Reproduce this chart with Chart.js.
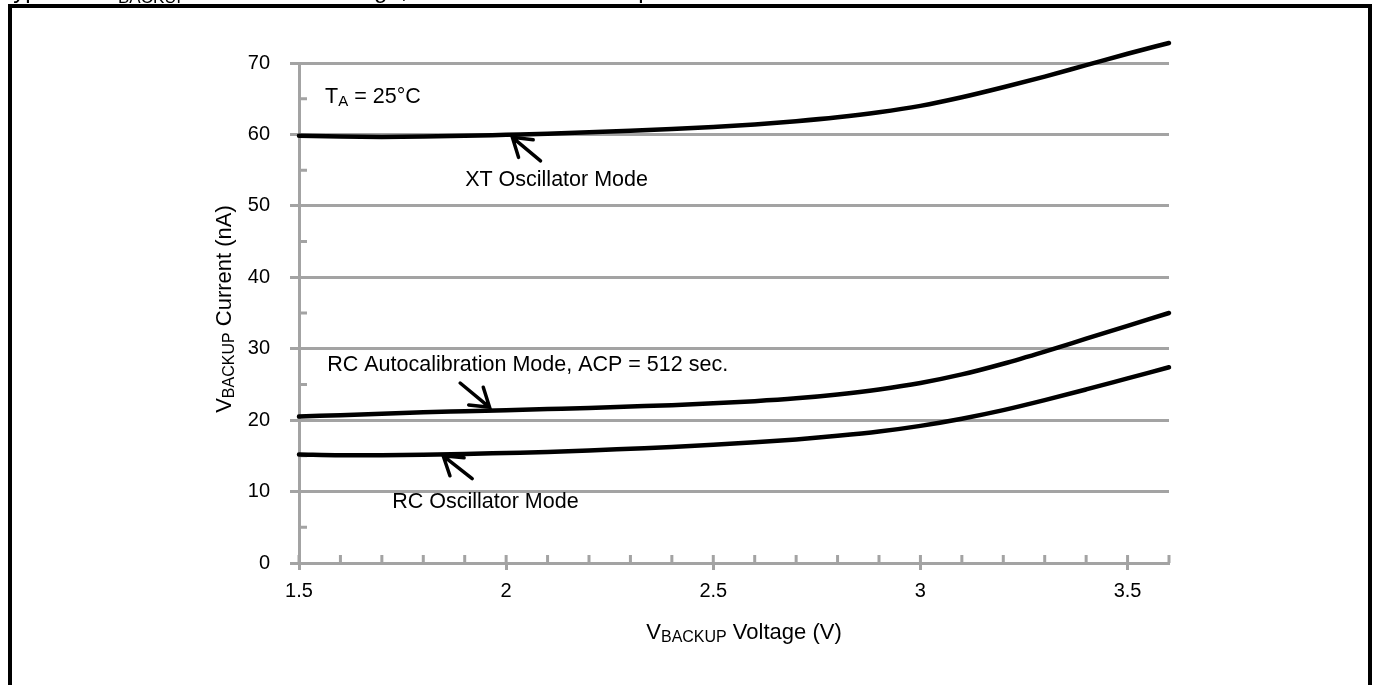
<!DOCTYPE html>
<html>
<head>
<meta charset="utf-8">
<title>VBACKUP Current vs. Voltage</title>
<script src="https://cdn.jsdelivr.net/npm/chart.js@4.4.1/dist/chart.umd.min.js"></script>
<style>
  html, body { margin: 0; padding: 0; background: #fff; }
  #myChart { display: block; }
</style>
</head>
<body>
<canvas id="myChart" width="1378" height="685"></canvas>
<script>
// values (V, nA)
const voltage = [1.5, 1.6, 1.7, 1.8, 1.9, 2.0, 2.1, 2.2, 2.3, 2.4, 2.5, 2.6, 2.7, 2.8, 2.9, 3.0, 3.1, 3.2, 3.3, 3.4, 3.5, 3.6];
const xtOscillator = [59.8, 59.7, 59.65, 59.7, 59.8, 59.95, 60.1, 60.3, 60.5, 60.75, 61.05, 61.4, 61.85, 62.4, 63.1, 64.0, 65.2, 66.6, 68.1, 69.7, 71.3, 72.8];
const rcAutocal = [20.5, 20.7, 20.9, 21.1, 21.25, 21.4, 21.55, 21.7, 21.9, 22.1, 22.35, 22.65, 23.05, 23.6, 24.3, 25.2, 26.4, 27.9, 29.6, 31.4, 33.2, 35.0];
const rcOscillator = [15.2, 15.1, 15.1, 15.15, 15.25, 15.4, 15.55, 15.75, 16.0, 16.25, 16.55, 16.9, 17.3, 17.8, 18.4, 19.2, 20.2, 21.4, 22.8, 24.3, 25.85, 27.4];

const xTicks = [1.5, 2, 2.5, 3, 3.5];
const xMinorTicks = [1.6, 1.7, 1.8, 1.9, 2.1, 2.2, 2.3, 2.4, 2.6, 2.7, 2.8, 2.9, 3.1, 3.2, 3.3, 3.4, 3.6];
const yTicks = [0, 10, 20, 30, 40, 50, 60, 70];
const yMinorTicks = [5, 15, 25, 35, 45, 55, 65];

const gray = "#a3a3a3";
const fontFamily = '"Liberation Sans", Arial, sans-serif';

// labels placed in data units (left edge / baseline)
const notes = [
  { parts: [["T", false], ["A", true], [" = 25°C", false]], x: 1.563, y: 64.4 },
  { parts: [["XT Oscillator Mode", false]], x: 1.901, y: 52.8 },
  { parts: [["RC Autocalibration Mode, ACP = 512 sec.", false]], x: 1.568, y: 26.9 },
  { parts: [["RC Oscillator Mode", false]], x: 1.725, y: 7.7 },
];
// arrows: tail -> head, data units
const arrows = [
  { from: [2.083, 56.3], to: [2.015, 59.6] },
  { from: [1.889, 25.2], to: [1.960, 21.8] },
  { from: [1.918, 11.8], to: [1.848, 15.0] },
];

function makePoints(values) {
  let pts = [];
  for (let i = 0; i < voltage.length; i++) {
    pts.push({ x: voltage[i], y: values[i] });
  }
  return pts;
}

function drawRich(ctx, x, y, parts, size, subSize) {
  for (const [text, sub] of parts) {
    ctx.font = (sub ? subSize : size) + "px " + fontFamily;
    ctx.fillText(text, x, sub ? y + 3 : y);
    x += ctx.measureText(text).width;
  }
  return x;
}

function richWidth(ctx, parts, size, subSize) {
  let w = 0;
  for (const [text, sub] of parts) {
    ctx.font = (sub ? subSize : size) + "px " + fontFamily;
    w += ctx.measureText(text).width;
  }
  return w;
}

const extras = {
  id: "extras",
  beforeDatasetsDraw(chart) {
    const { ctx, scales: { x, y }, chartArea } = chart;
    ctx.save();
    ctx.strokeStyle = gray;
    ctx.lineWidth = 3;
    ctx.beginPath();
    xMinorTicks.concat(xTicks).forEach((v) => {
      const px = x.getPixelForValue(v);
      ctx.moveTo(px, chartArea.bottom);
      ctx.lineTo(px, chartArea.bottom - 8);
    });
    yMinorTicks.forEach((v) => {
      const py = y.getPixelForValue(v);
      ctx.moveTo(chartArea.left, py);
      ctx.lineTo(chartArea.left + 8, py);
    });
    ctx.stroke();
    ctx.restore();
  },
  afterDraw(chart) {
    const { ctx, scales: { x, y }, chartArea } = chart;
    ctx.save();
    ctx.fillStyle = "#000";
    ctx.textBaseline = "alphabetic";
    ctx.textAlign = "left";

    // clipped figure caption above the frame
    ctx.font = "24px " + fontFamily;
    ctx.fillText("Typical", 0, -2);
    ctx.fillText("V", 101, -2);
    ctx.font = "17px " + fontFamily;
    ctx.fillText("BACKUP", 118, 3);
    ctx.font = "24px " + fontFamily;
    ctx.fillText(" Current vs. Voltage, Oscillator Mode Comparison", 190, -2);

    // frame
    ctx.strokeStyle = "#000";
    ctx.lineWidth = 4;
    ctx.strokeRect(10, 6, 1360, 720);

    // x title
    const xParts = [["V", false], ["BACKUP", true], [" Voltage (V)", false]];
    const xw = richWidth(ctx, xParts, 22, 16);
    drawRich(ctx, (chartArea.left + chartArea.right) / 2 + 10 - xw / 2, chartArea.bottom + 76, xParts, 22, 16);

    // y title
    const yParts = [["V", false], ["BACKUP", true], [" Current (nA)", false]];
    const yw = richWidth(ctx, yParts, 22, 16);
    ctx.save();
    ctx.translate(chartArea.left - 68, (chartArea.top + chartArea.bottom) / 2 - 4);
    ctx.rotate(-Math.PI / 2);
    drawRich(ctx, -yw / 2, 0, yParts, 22, 16);
    ctx.restore();

    // annotations
    notes.forEach((n) => {
      drawRich(ctx, x.getPixelForValue(n.x), y.getPixelForValue(n.y), n.parts, 21.5, 15);
    });

    ctx.strokeStyle = "#000";
    ctx.lineWidth = 3.5;
    ctx.lineCap = "round";
    arrows.forEach((a) => {
      const x1 = x.getPixelForValue(a.from[0]);
      const y1 = y.getPixelForValue(a.from[1]);
      const x2 = x.getPixelForValue(a.to[0]);
      const y2 = y.getPixelForValue(a.to[1]);
      const ang = Math.atan2(y1 - y2, x1 - x2);
      const len = 21;
      const spread = (33 * Math.PI) / 180;
      ctx.beginPath();
      ctx.moveTo(x1, y1);
      ctx.lineTo(x2, y2);
      ctx.moveTo(x2 + len * Math.cos(ang - spread), y2 + len * Math.sin(ang - spread));
      ctx.lineTo(x2, y2);
      ctx.lineTo(x2 + len * Math.cos(ang + spread), y2 + len * Math.sin(ang + spread));
      ctx.stroke();
    });
    ctx.restore();
  },
};

const lineStyle = {
  borderColor: "#000",
  backgroundColor: "#000",
  borderWidth: 4.5,
  pointRadius: 0,
  cubicInterpolationMode: "monotone",
  borderCapStyle: "round",
  clip: false,
};

const data = {
  datasets: [
    Object.assign({ label: "XT Oscillator Mode", data: makePoints(xtOscillator) }, lineStyle),
    Object.assign({ label: "RC Autocalibration Mode, ACP = 512 sec.", data: makePoints(rcAutocal) }, lineStyle),
    Object.assign({ label: "RC Oscillator Mode", data: makePoints(rcOscillator) }, lineStyle),
  ],
};

const config = {
  type: "line",
  data: data,
  options: {
    responsive: false,
    animation: false,
    layout: { padding: { left: 0, right: 209, top: 63, bottom: 0 } },
    plugins: {
      legend: { display: false },
      tooltip: { enabled: false },
    },
    scales: {
      x: {
        type: "linear",
        min: 1.5,
        max: 3.6,
        afterBuildTicks: (s) => {
          s.ticks = xTicks.map((v) => ({ value: v }));
        },
        afterFit: (s) => {
          s.height = 122;
        },
        grid: {
          display: true,
          drawOnChartArea: false,
          drawTicks: true,
          tickLength: 7,
          tickWidth: 3,
          tickColor: gray,
        },
        border: { display: true, color: gray, width: 3 },
        ticks: {
          color: "#000",
          font: { family: fontFamily, size: 20 },
          padding: 9,
          maxRotation: 0,
          callback: (v) => String(v),
        },
      },
      y: {
        type: "linear",
        min: 0,
        max: 70,
        afterBuildTicks: (s) => {
          s.ticks = yTicks.map((v) => ({ value: v }));
        },
        afterFit: (s) => {
          s.width = 299;
        },
        grid: {
          color: gray,
          lineWidth: 3,
          drawTicks: true,
          tickLength: 9,
          tickColor: gray,
          tickWidth: 3,
        },
        border: { display: true, color: gray, width: 3 },
        ticks: {
          color: "#000",
          font: { family: fontFamily, size: 20 },
          padding: 20,
        },
      },
    },
  },
  plugins: [extras],
};

const myChart = new Chart(document.getElementById("myChart"), config);
</script>
</body>
</html>
